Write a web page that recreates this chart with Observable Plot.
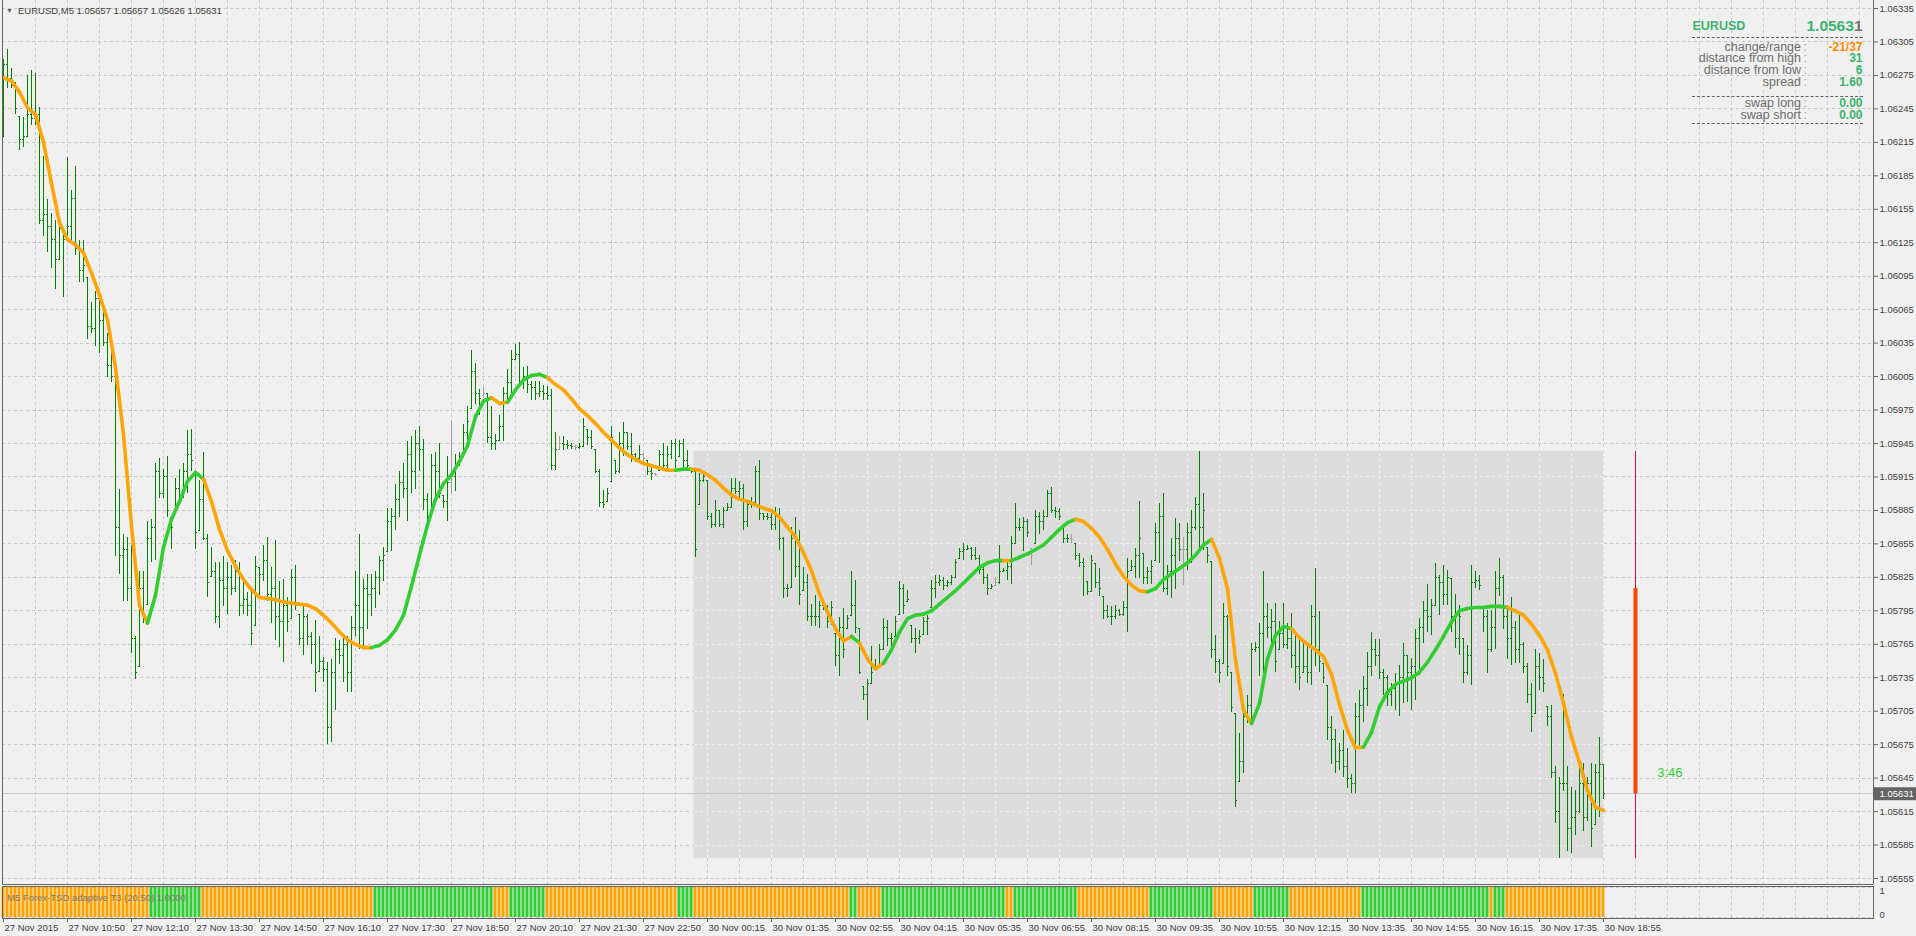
<!DOCTYPE html>
<html><head><meta charset="utf-8">
<script src="https://cdn.jsdelivr.net/npm/d3@7"></script>
<script src="https://cdn.jsdelivr.net/npm/@observablehq/plot@0.6"></script>
<style>
html,body{margin:0;padding:0;background:#f0f0f0;width:1916px;height:936px;overflow:hidden;}
#wrap{position:relative;width:1916px;height:936px;font-family:"Liberation Sans",Arial,sans-serif;}
#wrap svg{display:block;}
.t{position:absolute;white-space:nowrap;line-height:1;}
.sep{position:absolute;height:0;border-top:1px dashed #606060;}
</style></head><body><div id="wrap"></div>
<script>
// ---------------- DATA (prices in points above 1.05000) ----------------
const symbol = "EURUSD";
const headerText = "EURUSD,M5  1.05657 1.05657 1.05626 1.05631";
const indicatorName = "M5 Forex-TSD adaptive T3 (20,50) 1.0000";
const highs = [
1289,1298,1281,1269,1238,1237,1275,1279,1277,1246,
1202,1164,1151,1145,1143,1135,1201,1172,1193,1127,
1127,1094,1071,1081,1075,1065,1044,1028,1010,904,
863,861,854,772,830,830,875,877,927,932,
922,933,879,914,922,927,957,958,920,912,
937,863,852,838,838,844,838,836,840,838,
823,811,811,844,834,854,861,834,858,821,
823,807,832,836,792,801,792,776,786,772,
753,749,751,770,768,770,772,790,830,863,
823,828,828,830,844,852,887,887,908,920,
927,947,951,957,960,949,900,935,937,945,
898,933,966,935,937,962,978,1028,1017,993,
995,990,978,953,970,995,1011,1028,1034,1036,
1013,1014,1001,1001,1001,997,996,993,955,951,
951,948,945,943,945,967,958,957,940,922,
903,905,960,930,955,964,955,954,936,943,
936,930,924,918,939,945,942,948,949,948,
949,939,921,922,918,919,912,882,894,885,
888,891,914,914,911,908,894,897,924,930,
882,882,882,888,887,861,819,870,879,867,
834,828,801,809,803,803,800,803,775,789,
797,791,830,822,779,727,733,763,751,765,
788,786,775,790,821,819,813,782,779,777,
789,791,822,827,827,825,822,827,841,851,
855,854,852,852,845,837,828,819,825,854,
833,840,862,891,878,879,877,851,885,883,
885,903,906,888,887,870,863,863,855,846,
842,821,845,837,833,808,800,799,800,796,
803,842,840,851,893,846,834,840,873,891,
900,836,860,878,873,861,873,885,897,938,
900,852,839,773,751,802,791,740,703,685,
712,719,766,767,784,830,802,796,802,785,
802,784,793,773,772,766,766,800,833,794,
748,728,700,689,676,688,672,648,712,724,
736,758,776,769,769,742,737,730,739,746,
766,755,752,778,788,803,819,805,837,827,
836,831,824,810,800,770,764,836,830,827,
798,795,795,830,842,827,800,807,785,792,
767,748,730,760,757,751,709,710,655,646,
720,655,637,634,654,658,646,658,657,681,
657];
const lows = [
1219,1263,1263,1240,1208,1210,1219,1230,1230,1141,
1131,1116,1102,1083,1110,1076,1127,1127,1114,1089,
1089,1038,1044,1032,1026,1032,1004,1000,844,828,
803,803,757,733,745,784,801,838,840,896,
896,879,850,883,891,896,900,920,850,867,
858,807,826,784,779,799,792,809,811,790,
792,790,764,782,807,821,803,784,768,762,
749,776,788,795,764,755,764,747,722,741,
731,675,677,706,747,731,722,722,772,760,
760,778,790,797,809,821,848,848,867,879,
896,875,900,904,920,885,867,879,891,896,
887,875,900,902,924,933,945,976,980,970,
988,945,939,939,947,947,982,990,1019,995,
993,990,984,984,986,984,984,921,921,940,
939,940,940,939,940,942,943,940,918,888,
887,893,911,917,918,933,939,928,928,930,
928,916,912,915,921,920,921,931,921,933,
922,922,918,843,890,910,876,869,870,870,
869,884,888,899,894,867,870,887,888,876,
876,876,867,867,849,806,807,816,825,800,
813,785,781,781,779,795,779,782,745,736,
752,779,791,775,738,715,697,730,742,745,
759,763,760,772,792,792,803,766,757,765,
774,773,798,806,817,813,816,818,824,842,
840,849,840,840,828,819,809,815,818,819,
830,822,819,855,866,848,861,836,855,863,
867,879,882,878,876,855,855,855,840,834,
808,809,811,815,808,787,788,782,787,790,
790,776,831,824,824,819,819,819,840,837,
811,809,806,814,839,818,831,837,867,849,
849,837,752,739,730,748,736,704,619,642,
649,694,694,758,736,736,770,764,740,760,
761,760,743,730,724,740,730,728,745,740,
730,679,657,649,652,646,636,631,631,673,
695,709,736,745,733,719,709,709,706,700,
712,713,706,715,737,766,776,773,800,791,
800,800,776,761,755,730,737,728,815,813,
776,739,758,760,808,778,751,746,748,748,
739,712,686,703,724,722,691,645,604,573,
633,579,577,594,613,597,606,583,603,610,
626];
const opens = [
1240,1285,1272,1266,1238,1218,1220,1240,1236,1240,
1145,1150,1140,1128,1110,1135,1128,1140,1165,1120,
1100,1094,1050,1048,1075,1055,1036,1015,1005,870,
845,850,815,770,745,815,801,860,870,920,
900,915,879,883,905,898,920,935,920,867,
895,860,826,830,790,822,815,825,815,830,
800,805,800,782,834,828,840,810,815,790,
785,800,788,825,792,770,790,772,765,741,
750,742,690,740,760,755,765,740,780,800,
780,815,810,815,825,840,848,875,880,895,
910,905,935,920,945,940,895,880,925,920,
898,893,910,915,925,933,955,976,1010,990,
988,990,950,945,948,960,990,1000,1020,1025,
1000,1005,998,995,990,992,990,988,925,940,
945,944,943,942,941,942,958,950,940,920,
892,893,911,930,920,945,955,942,935,932,
935,930,920,918,921,935,925,935,945,933,
945,930,921,920,890,912,912,880,872,885,
872,885,888,905,902,905,875,890,892,920,
882,880,879,872,880,860,815,816,860,835,
813,820,790,790,790,800,798,785,775,755,
780,779,791,800,779,727,720,730,742,745,
760,780,770,772,792,815,803,782,770,770,
774,785,798,815,820,822,818,820,825,842,
848,850,851,845,842,832,825,815,818,820,
830,831,835,855,870,870,875,851,855,880,
875,880,900,885,884,870,860,860,855,845,
838,821,812,837,820,808,795,790,790,795,
792,798,831,835,845,846,825,830,840,865,
880,815,830,845,860,850,850,865,870,890,
870,852,839,760,750,748,790,740,703,642,
660,700,710,760,762,775,790,780,785,760,
775,765,770,755,745,740,745,740,790,760,
748,728,690,680,660,670,655,645,640,700,
710,725,745,760,755,740,735,720,725,730,
735,755,740,745,770,780,795,790,800,825,
820,810,824,790,770,770,740,755,820,822,
798,790,760,780,815,825,790,770,780,760,
765,745,720,703,745,735,709,700,650,615,
640,640,600,610,615,640,610,640,603,650,
657];
const closes = [
1285,1272,1266,1245,1218,1220,1240,1236,1240,1145,
1150,1140,1128,1110,1138,1128,1140,1165,1120,1100,
1105,1050,1048,1075,1055,1036,1015,1005,870,845,
850,815,770,740,815,790,860,870,920,900,
915,885,870,905,898,920,935,930,865,895,
860,820,830,790,822,815,825,815,830,800,
805,800,775,835,828,840,810,815,790,785,
800,785,825,800,770,790,772,765,740,750,
742,690,740,760,755,765,740,780,800,780,
815,810,815,825,840,845,875,880,895,910,
905,935,920,945,940,895,880,925,920,900,
893,910,915,925,930,955,965,1010,990,985,
990,950,945,948,960,990,1000,1020,1025,1000,
1005,998,995,990,992,990,988,925,940,945,
944,943,942,941,942,960,950,942,920,892,
890,900,950,920,945,955,942,935,932,935,
932,920,918,917,935,925,935,945,930,945,
930,925,920,850,912,915,880,872,885,872,
885,888,905,902,905,875,890,892,920,882,
880,879,872,880,860,815,815,860,835,810,
820,790,790,790,800,798,785,798,755,780,
760,788,800,780,740,720,730,740,745,760,
780,770,770,785,815,800,805,770,770,772,
785,788,815,820,822,818,820,825,838,848,
850,851,845,842,832,825,815,817,820,830,
831,835,855,870,870,875,865,845,880,875,
880,900,885,884,880,860,860,859,845,838,
835,812,840,820,815,795,790,790,795,792,
798,830,835,845,860,825,830,835,865,880,
815,830,845,860,850,850,865,870,890,870,
885,845,760,750,740,790,745,708,625,660,
700,710,760,762,775,790,780,785,750,775,
765,770,755,745,735,745,740,790,760,750,
735,690,680,660,670,655,645,640,700,710,
725,745,760,755,740,735,720,725,730,735,
755,740,745,770,780,795,790,800,825,820,
810,825,790,770,790,740,755,820,822,818,
790,760,780,815,825,790,770,780,760,765,
745,720,700,745,735,730,700,650,615,640,
640,600,610,615,640,610,640,600,650,657,
631];
// adaptive T3 line, read at every second bar (0, 2, 4 ... 400)
const t3Even = [
1273,1270,1260,1246,1240,1215,1178,1143,1128,1123,
1116,1098,1078,1056,1013,953,871,800,784,809,
852,877,893,911,919,913,893,868,849,835,
823,814,807,806,805,803,802,801,800,797,
791,784,776,769,765,762,762,764,769,778,
791,817,845,872,895,909,917,929,943,969,
983,986,981,982,993,1002,1006,1007,1004,998,
993,985,976,970,963,955,948,941,935,931,
927,925,923,921,921,922,922,921,917,912,
905,899,895,893,890,887,885,879,870,861,
847,831,810,794,779,768,772,766,752,743,
748,760,776,788,791,792,795,801,807,813,
820,827,834,838,840,840,840,843,846,850,
854,861,868,874,877,875,869,861,850,837,
826,818,813,812,815,823,828,833,838,845,
854,859,842,815,751,706,694,712,752,773,
781,779,771,765,760,754,738,711,688,672,
673,686,709,722,729,732,735,740,749,760,
772,785,795,797,798,798,799,799,798,795,
791,783,773,760,739,712,682,659,634,619,
616];
// T3 slope state per bar (histogram colours): [firstBar, lastBar, state]
const trendRuns = [[0,36,"dn"],[37,49,"up"],[50,92,"dn"],[93,122,"up"],[123,126,"dn"],[127,135,"up"],
[136,168,"dn"],[169,172,"up"],[173,211,"dn"],[212,213,"up"],[214,219,"dn"],[220,250,"up"],
[251,252,"dn"],[253,268,"up"],[269,286,"dn"],[287,302,"up"],[303,312,"dn"],[313,321,"up"],
[322,339,"dn"],[340,371,"up"],[372,372,"dn"],[373,375,"up"],[376,400,"dn"]];
const dojiBars = [112,120,139,143,160,163,248,257,267,295];
const timeLabels = ["27 Nov 2015","27 Nov 10:50","27 Nov 12:10","27 Nov 13:30","27 Nov 14:50","27 Nov 16:10",
"27 Nov 17:30","27 Nov 18:50","27 Nov 20:10","27 Nov 21:30","27 Nov 22:50","30 Nov 00:15","30 Nov 01:35",
"30 Nov 02:55","30 Nov 04:15","30 Nov 05:35","30 Nov 06:55","30 Nov 08:15","30 Nov 09:35","30 Nov 10:55",
"30 Nov 12:15","30 Nov 13:35","30 Nov 14:55","30 Nov 16:15","30 Nov 17:35","30 Nov 18:55"];
const labelStep = 16;   // bars between time labels
const gridStep = 8;     // bars between vertical grid lines
const priceTicks = [1.05555,1.05585,1.05615,1.05645,1.05675,1.05705,1.05735,1.05765,1.05795,1.05825,
1.05855,1.05885,1.05915,1.05945,1.05975,1.06005,1.06035,1.06065,1.06095,1.06125,1.06155,1.06185,
1.06215,1.06245,1.06275,1.06305,1.06335];
const dayStartBar = 173;          // first bar of 30 Nov (daily range box)
const timerBarsAhead = 8;         // candle-timer marker position
const timerText = "3:46";
const timerUpper = 815;           // upper end of the thick timer bar (points)
const infoRows = [
  {label:"change/range", value:"-21/37", color:"#ff8c00"},
  {label:"distance from high", value:"31", color:"#3cb371"},
  {label:"distance from low", value:"6", color:"#3cb371"},
  {label:"spread", value:"1.60", color:"#3cb371"},
  {label:"swap long", value:"0.00", color:"#3cb371"},
  {label:"swap short", value:"0.00", color:"#3cb371"}
];

// ---------------- BUILD ----------------
const P = v => +(1.05 + v / 1e5).toFixed(5);
const FONT = '"Liberation Sans", Arial, sans-serif';
const UP = "#32cd32", DN = "#ffa500", BARC = "#008000", DOJI = "#a0a0a0";
const GRID = "#c8c8c8", BORDER = "#646464";
const X0 = 3, BW = 4, NB = highs.length - 1;           // bar i at X0 + BW*i px
const barAt = px => (px - X0) / BW;
const Y_TOP = 8, Y_BOT = 878;
const priceAt = py => priceTicks[0] + (Y_BOT - py) * (priceTicks[priceTicks.length-1] - priceTicks[0]) / (Y_BOT - Y_TOP);

const trendAt = i => { for (const r of trendRuns) if (i >= r[0] && i <= r[1]) return r[2]; return "dn"; };
const bars = highs.map((h, i) => ({i, h: P(h), l: P(lows[i]), o: P(opens[i]), c: P(closes[i]),
  col: dojiBars.includes(i) ? DOJI : BARC, tcol: trendAt(i) === "up" ? UP : DN}));
const t3Segs = [];
for (let k = 0; k < t3Even.length - 1; k++) {
  t3Segs.push({x1: 2*k, x2: 2*k+2, y1: P(t3Even[k]), y2: P(t3Even[k+1]), col: trendAt(2*k+1) === "up" ? UP : DN});
}
const dayBars = bars.filter(b => b.i >= dayStartBar);
const box = {x1: dayStartBar - 0.375, x2: NB + 0.25, hi: d3.max(dayBars, b => b.h), lo: d3.min(dayBars, b => b.l)};
const lastPrice = bars[NB].c;
const vGrid = d3.range(gridStep, barAt(1873), gridStep);
const labelData = timeLabels.map((t, k) => ({bar: k * labelStep, t}));
const dash = {stroke: GRID, strokeDasharray: "3,3", shapeRendering: "crispEdges"};
const timerBar = NB + timerBarsAhead;

const main = Plot.plot({
  width: 1916, height: 885, marginLeft: 2, marginRight: 43, marginTop: 0, marginBottom: 1,
  style: {background: "#f0f0f0", fontFamily: FONT, fontSize: "9.5px", overflow: "visible"},
  x: {type: "linear", domain: [0, NB], range: [X0, X0 + BW * NB], axis: null},
  y: {type: "linear", domain: [priceTicks[0], priceTicks[priceTicks.length-1]], range: [Y_BOT, Y_TOP], axis: null},
  marks: [
    Plot.ruleX(vGrid, {y1: priceAt(0), y2: priceAt(884), ...dash}),
    Plot.ruleY(priceTicks, {x1: barAt(2), x2: barAt(1873), ...dash}),
    Plot.rect([box], {x1: "x1", x2: "x2", y1: "lo", y2: "hi", fill: "#dcdcdc"}),
    Plot.ruleX(vGrid.filter(g => g > box.x1 && g < box.x2), {y1: box.lo, y2: box.hi, ...dash, stroke: "#f2f2f2"}),
    Plot.ruleY(priceTicks.filter(p => p > box.lo && p < box.hi), {x1: box.x1, x2: box.x2, ...dash, stroke: "#eeeeee"}),
    Plot.ruleY([lastPrice], {x1: barAt(2), x2: barAt(1873), stroke: "#c8c8c8", shapeRendering: "crispEdges"}),
    Plot.ruleX(bars, {x: "i", y1: "l", y2: "h", stroke: "col", shapeRendering: "crispEdges"}),
    Plot.link(bars, {x1: d => d.i - 0.3, x2: d => d.i, y1: "o", y2: "o", stroke: "col", shapeRendering: "crispEdges"}),
    Plot.link(bars, {x1: d => d.i, x2: d => d.i + 0.3, y1: "c", y2: "c", stroke: "col", shapeRendering: "crispEdges"}),
    Plot.link(t3Segs, {x1: "x1", x2: "x2", y1: "y1", y2: "y2", stroke: "col", strokeWidth: 3.6, strokeLinecap: "round"}),
    Plot.ruleX([timerBar], {y1: box.lo, y2: box.hi, stroke: "#dc143c", shapeRendering: "crispEdges"}),
    Plot.ruleX([timerBar], {y1: lastPrice, y2: P(timerUpper), stroke: "#ff4500", strokeWidth: 4}),
    Plot.text([timerText], {x: timerBar + 8.6, y: lastPrice + 0.00019, text: d => d, fill: UP, fontSize: 13, fontFamily: FONT}),
    Plot.axisY({anchor: "right", ticks: priceTicks, tickFormat: d => d.toFixed(5), tickSize: 4, tickPadding: 2,
      label: null, stroke: BORDER, fill: "#404040", fontSize: 9.5}),
    Plot.ruleY([lastPrice], {x1: barAt(1874), x2: barAt(1916), stroke: "#646464", strokeWidth: 13}),
    Plot.text([lastPrice], {x: barAt(1879), y: d => d, text: d => d.toFixed(5), fill: "#ffffff", textAnchor: "start", fontSize: 9.5}),
    Plot.ruleX([barAt(2), barAt(1873)], {y1: priceAt(0), y2: priceAt(884), stroke: BORDER, shapeRendering: "crispEdges"}),
    Plot.ruleY([priceAt(884)], {x1: barAt(2), x2: barAt(1873), stroke: BORDER, shapeRendering: "crispEdges"})
  ]
});

const yIndAt = py => (32 - py) / 30;
const ind = Plot.plot({
  width: 1916, height: 51, marginLeft: 2, marginRight: 43, marginTop: 1, marginBottom: 18,
  style: {background: "#f0f0f0", fontFamily: FONT, fontSize: "9.5px", overflow: "visible"},
  x: {type: "linear", domain: [0, NB], range: [X0, X0 + BW * NB], axis: null},
  y: {type: "linear", domain: [0, 1], range: [32, 2], axis: null},
  marks: [
    Plot.ruleX(vGrid, {y1: 0, y2: 1, ...dash}),
    Plot.ruleY([0, 1], {x1: barAt(2), x2: barAt(1873), ...dash}),
    Plot.rect(bars, {x1: d => d.i - 0.375, x2: d => d.i + 0.375, y1: 0, y2: 1, fill: "tcol"}),
    Plot.frame({stroke: BORDER}),
    Plot.text(["1"], {x: barAt(1879), y: 1, text: d => d, textAnchor: "start", lineAnchor: "top", fill: "#404040"}),
    Plot.text(["0"], {x: barAt(1879), y: 0, text: d => d, textAnchor: "start", lineAnchor: "bottom", fill: "#404040"}),
    Plot.ruleX(labelData, {x: "bar", y1: yIndAt(33), y2: yIndAt(37), stroke: BORDER, shapeRendering: "crispEdges"}),
    Plot.text(labelData, {x: "bar", y: yIndAt(42.5), text: "t", textAnchor: "start", dx: 1, fill: "#404040"})
  ]
});

const wrap = document.getElementById("wrap");
wrap.appendChild(main);
wrap.appendChild(ind);

function addText(x, cy, txt, o = {}) {
  const d = document.createElement("div");
  d.className = "t";
  const fs = o.size || 9.5;
  const lh = o.lh || fs;
  d.style.fontSize = fs + "px";
  d.style.lineHeight = lh + "px";
  d.style.height = lh + "px";
  d.style.color = o.color || "#404040";
  if (o.weight) d.style.fontWeight = o.weight;
  d.style.top = (cy - lh / 2) + "px";
  d.style.left = x + "px";
  if (o.right) d.style.transform = "translateX(-100%)";
  if (o.html) d.innerHTML = txt; else d.textContent = txt;
  wrap.appendChild(d);
  return d;
}
function addSep(y) {
  const s = document.createElement("div");
  s.className = "sep";
  s.style.left = "1692px"; s.style.width = "171px"; s.style.top = y + "px";
  wrap.appendChild(s);
}
// header
addText(6, 10.5, "\u25BC", {size: 7, color: "#606060"});
addText(18, 10.7, headerText, {size: 9.5, color: "#404040"});
// info panel
addText(1692.5, 26, symbol, {size: 12.5, color: "#3cb371", weight: "bold"});
addText(1862.5, 26, '<span style="color:#3cb371">' + lastPrice.toFixed(5).slice(0, -1) + '</span><span style="color:#707070">' + lastPrice.toFixed(5).slice(-1) + '</span>', {size: 15.5, weight: "bold", right: true, html: true});
addSep(37);
const rowY = [46.7, 58.3, 70, 82.3, 103.3, 115];
infoRows.forEach((r, k) => {
  addText(1801, rowY[k], r.label, {size: 12.5, lh: 10, color: "#6e6e6e", right: true});
  addText(1803.5, rowY[k], ":", {size: 12.5, lh: 10, color: "#9a9a9a"});
  addText(1862.5, rowY[k], r.value, {size: 12, lh: 10, color: r.color, weight: "bold", right: true});
});
addSep(95.5);
addSep(123);
// indicator caption
addText(7, 897.5, indicatorName, {size: 9.5, color: "#7a7a7a"});
</script>
</body></html>
